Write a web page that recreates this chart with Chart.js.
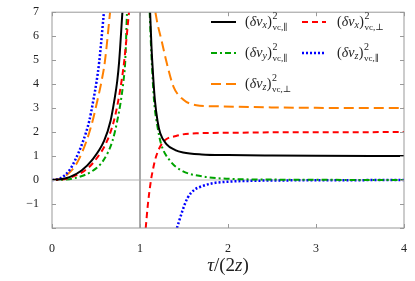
<!DOCTYPE html>
<html>
<head>
<meta charset="utf-8">
<script src="https://cdn.jsdelivr.net/npm/chart.js@4.4.0/dist/chart.umd.min.js"></script>
<style>
  body { margin: 0; background: #fff; }
  canvas { display: block; }
</style>
</head>
<body>
<canvas id="fluctChart" width="415" height="281"></canvas>
<script>
// values, u = tau/(2z); null breaks the curve at the pole
const blackX = [0, 0.1, 0.2, 0.336, 0.45, 0.593, 0.665, 0.707, 0.741, 0.763, 0.80, 1, 1.115, 1.13, 1.15, 1.17, 1.20, 1.23, 1.30, 1.40, 1.49, 1.70, 2.0, 2.5, 3.0, 4.0];
const blackY = [0, 0.03, 0.12, 0.40, 0.81, 1.64, 2.46, 3.29, 4.12, 4.94, 7, null, 7, 5.6, 4.3, 3.3, 2.45, 1.95, 1.5, 1.25, 1.15, 1.07, 1.04, 1.02, 1.01, 1.0];

const redX = [0, 0.1, 0.2, 0.374, 0.488, 0.627, 0.703, 0.752, 0.79, 0.82, 0.875, 1, 1.065, 1.09, 1.125, 1.145, 1.18, 1.26, 1.41, 1.64, 2.0, 2.5, 3.0, 4.0];
const redY = [0, 0.02, 0.1, 0.40, 0.81, 1.64, 2.46, 3.29, 4.12, 4.94, 7, null, -2, -1.0, 0, 0.4, 0.95, 1.57, 1.84, 1.95, 1.97, 1.99, 1.995, 2.0];

const greenX = [0, 0.15, 0.3, 0.468, 0.582, 0.688, 0.741, 0.782, 0.812, 0.832, 0.852, 1, 1.11, 1.13, 1.16, 1.20, 1.24, 1.34, 1.47, 1.71, 2.02, 2.5, 3.0, 4.0];
const greenY = [0, 0.02, 0.12, 0.40, 0.81, 1.64, 2.46, 3.29, 4.12, 4.94, 7, null, 7, 5.2, 3.3, 2.2, 1.5, 0.81, 0.4, 0.15, 0.05, 0.02, 0.01, 0];

const blueX = [0, 0.1, 0.196, 0.26, 0.355, 0.423, 0.468, 0.507, 0.537, 0.59, 1, 1.42, 1.49, 1.54, 1.62, 1.68, 1.83, 2.0, 2.3, 3.0, 4.0];
const blueY = [0, 0.08, 0.40, 0.81, 1.64, 2.46, 3.29, 4.12, 4.94, 7, null, -2, -1.2, -0.75, -0.4, -0.29, -0.13, -0.07, -0.03, -0.01, 0];

const orangeX = [0, 0.1, 0.223, 0.298, 0.393, 0.461, 0.514, 0.563, 0.601, 0.66, 1, 1.175, 1.20, 1.24, 1.30, 1.38, 1.49, 1.64, 1.81, 1.94, 2.5, 3.0, 4.0];
const orangeY = [0, 0.06, 0.40, 0.81, 1.64, 2.46, 3.29, 4.12, 4.94, 7, null, 7, 6.5, 5.9, 4.94, 3.9, 3.36, 3.12, 3.08, 3.07, 3.03, 3.01, 3.0];

const xTicks = [0, 1, 2, 3, 4];
const yTicks = [-2, -1, 0, 1, 2, 3, 4, 5, 6, 7];

// legend pieces: subscript of v and the stacked subscript
const legendSub = ['x', 'x', 'y', 'z', 'z'];
const legendPar = ['\u2225', '\u22A5', '\u2225', '\u2225', '\u22A5'];

const toPoints = (xs, ys) => xs.map((x, i) => ({ x: x, y: ys[i] }));

const series = [
  { xs: blackX, ys: blackY, color: '#000000', dash: [], width: 2 },
  { xs: redX, ys: redY, color: '#ff0000', dash: [6, 4], width: 2 },
  { xs: greenX, ys: greenY, color: '#00a400', dash: [6, 3, 2, 3], width: 2 },
  { xs: blueX, ys: blueY, color: '#0000ff', dash: [2, 2], width: 2.5 },
  { xs: orangeX, ys: orangeY, color: '#ff8000', dash: [10, 5], width: 2 },
];

const serif = "'Liberation Serif', 'DejaVu Serif', serif";

function drawLabel(ctx, x, y, sub, par) {
  ctx.fillStyle = '#222';
  ctx.textBaseline = 'middle';
  ctx.textAlign = 'left';
  ctx.font = '14px ' + serif;
  ctx.fillText('(', x, y);
  x += ctx.measureText('(').width;
  ctx.font = 'italic 14px ' + serif;
  ctx.fillText('\u03B4v', x, y);
  x += ctx.measureText('\u03B4v').width;
  ctx.font = 'italic 10px ' + serif;
  ctx.fillText(sub, x, y + 3);
  x += ctx.measureText(sub).width + 0.5;
  ctx.font = '14px ' + serif;
  ctx.fillText(')', x, y);
  x += ctx.measureText(')').width + 0.5;
  ctx.font = '10px ' + serif;
  ctx.fillText('2', x, y - 6);
  ctx.font = '9px ' + serif;
  ctx.fillText('vc,' + par, x, y + 6);
}

const decor = {
  id: 'decor',
  beforeDatasetsDraw(chart) {
    const { ctx, chartArea: a, scales: { x, y } } = chart;
    ctx.save();
    // zero line and pole line
    ctx.strokeStyle = '#cccccc';
    ctx.lineWidth = 1.5;
    ctx.beginPath();
    ctx.moveTo(a.left, y.getPixelForValue(0));
    ctx.lineTo(a.right, y.getPixelForValue(0));
    ctx.stroke();
    ctx.strokeStyle = '#aaaaaa';
    ctx.lineWidth = 2;
    ctx.beginPath();
    ctx.moveTo(x.getPixelForValue(1), a.top);
    ctx.lineTo(x.getPixelForValue(1), a.bottom);
    ctx.stroke();
    ctx.restore();
  },
  afterDraw(chart) {
    const { ctx, chartArea: a, scales: { x, y } } = chart;
    ctx.save();
    // frame
    ctx.strokeStyle = '#999999';
    ctx.lineWidth = 1;
    ctx.strokeRect(a.left, a.top, a.right - a.left, a.bottom - a.top);
    // inward ticks on all sides
    ctx.beginPath();
    xTicks.forEach(v => {
      const px = Math.round(x.getPixelForValue(v)) + 0.5;
      ctx.moveTo(px, a.bottom); ctx.lineTo(px, a.bottom - 4);
      ctx.moveTo(px, a.top); ctx.lineTo(px, a.top + 4);
    });
    yTicks.forEach(v => {
      const py = Math.round(y.getPixelForValue(v)) + 0.5;
      ctx.moveTo(a.left, py); ctx.lineTo(a.left + 4, py);
      ctx.moveTo(a.right, py); ctx.lineTo(a.right - 4, py);
    });
    ctx.stroke();

    // legend
    const rows = [22, 53, 84];
    const cols = [{ l: 211, r: 236, t: 245 }, { l: 302, r: 326, t: 337 }];
    series.forEach((s, i) => {
      const row = rows[Math.floor(i / 2)];
      const col = cols[i % 2];
      ctx.strokeStyle = s.color;
      ctx.lineWidth = s.width;
      ctx.setLineDash(s.dash);
      ctx.beginPath();
      ctx.moveTo(col.l, row);
      ctx.lineTo(col.r, row);
      ctx.stroke();
      ctx.setLineDash([]);
      drawLabel(ctx, col.t, row, legendSub[i], legendPar[i]);
    });

    // x-axis title tau/(2z)
    const parts = [['\u03C4', 'italic 19px '], ['/(2', '19px '], ['z', 'italic 19px '], [')', '19px ']];
    let w = 0;
    parts.forEach(p => { ctx.font = p[1] + serif; w += ctx.measureText(p[0]).width; });
    let tx = (a.left + a.right) / 2 - w / 2;
    ctx.fillStyle = '#222';
    ctx.textBaseline = 'middle';
    ctx.textAlign = 'left';
    parts.forEach(p => {
      ctx.font = p[1] + serif;
      ctx.fillText(p[0], tx, 266);
      tx += ctx.measureText(p[0]).width;
    });
    ctx.restore();
  }
};

const chart = new Chart(document.getElementById('fluctChart'), {
  type: 'line',
  data: {
    datasets: series.map(s => ({
      data: toPoints(s.xs, s.ys),
      borderColor: s.color,
      borderWidth: s.width,
      borderDash: s.dash,
      pointRadius: 0,
      fill: false,
      spanGaps: false,
      cubicInterpolationMode: 'monotone',
    })),
  },
  options: {
    responsive: false,
    animation: false,
    layout: { padding: { top: 10, right: 11, left: 0, bottom: 0 } },
    plugins: { legend: { display: false }, tooltip: { enabled: false } },
    scales: {
      x: {
        type: 'linear',
        min: 0,
        max: 4,
        afterFit: (scale) => { scale.height = 53; },
        grid: { display: false },
        border: { display: false },
        ticks: {
          stepSize: 1,
          padding: 6,
          color: '#222',
          font: { family: serif, size: 12 },
        },
      },
      y: {
        min: -2,
        max: 7,
        afterFit: (scale) => { scale.width = 52; },
        grid: { display: false },
        border: { display: false },
        ticks: {
          stepSize: 1,
          padding: 5,
          color: '#222',
          font: { family: serif, size: 12 },
          callback: (v) => (v === -2 ? '' : (v < 0 ? '\u2212' + Math.abs(v) : String(v))),
        },
      },
    },
  },
  plugins: [decor],
});
</script>
</body>
</html>
